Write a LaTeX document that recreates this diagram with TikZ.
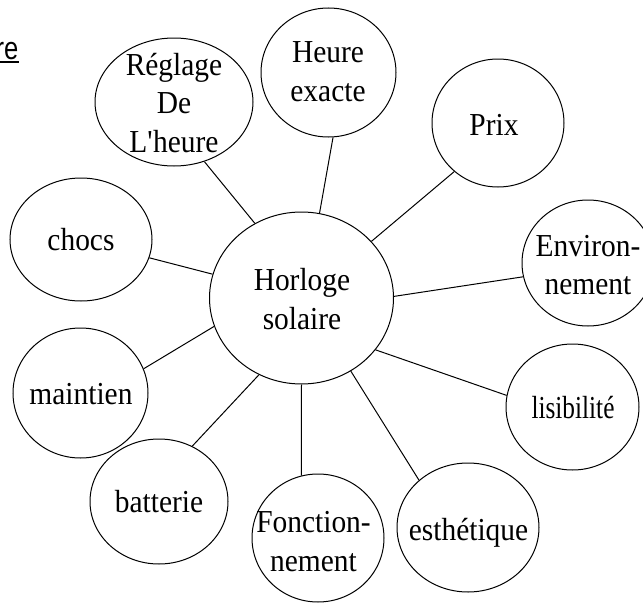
\documentclass[tikz,border=0pt]{standalone}
\usepackage{fontspec}
\setmainfont{Liberation Serif}[FakeStretch=0.92]
\newfontfamily\resans{Liberation Sans}
\usetikzlibrary{shapes.geometric}
\tikzset{
  bubble/.style={draw, ellipse, line width=1pt, inner sep=0pt},
  lbl/.style={inner sep=0pt, align=center, font=\fontsize{32}{38.5}\selectfont},
  link/.style={line width=1pt}
}
\begin{document}
\begin{tikzpicture}[x=1pt,y=-1pt]
\useasboundingbox (0,0) rectangle (643,605);
% title fragment (cut off at the left edge, as in the reference)
\node[inner sep=0pt, anchor=base east, font=\resans\fontsize{32}{38}\selectfont] (ttl) at (18.5,59) {\scalebox{0.8}[1]{re}};
\draw[line width=2pt] ([yshift=-3pt]ttl.base west) -- ([yshift=-3pt]ttl.base east);
% bubbles
\node[bubble, minimum width=158pt, minimum height=128pt] (reg) at (174,102) {};
\node[bubble, minimum width=135pt, minimum height=129pt] (heu) at (328.5,72.5) {};
\node[bubble, minimum width=132pt, minimum height=128pt] (prix) at (498,123) {};
\node[bubble, minimum width=132pt, minimum height=126pt] (env) at (588,263) {};
\node[bubble, minimum width=142pt, minimum height=123pt] (choc) at (81,239.5) {};
\node[bubble, minimum width=184pt, minimum height=172pt] (hor) at (301.5,298) {};
\node[bubble, minimum width=135pt, minimum height=130pt] (main) at (80.5,393) {};
\node[bubble, minimum width=138pt, minimum height=125pt] (batt) at (159,501.5) {};
\node[bubble, minimum width=132pt, minimum height=128pt] (fonc) at (318,538) {};
\node[bubble, minimum width=142pt, minimum height=129pt] (esth) at (468,527.5) {};
\node[bubble, minimum width=133pt, minimum height=126pt] (lisi) at (572.5,407) {};
% labels
\node[lbl] (treg) at (174,103) {Réglage\\De\\L\textquotesingle heure};
\node[lbl] (theu) at (328,71.5) {Heure\\exacte};
\node[lbl] (tprix) at (494,124.5) {Prix};
\node[lbl] (tenv) at (588,265) {Environ-\\nement};
\node[lbl] (tchoc) at (81,240) {chocs};
\node[lbl] (thor) at (302,299) {Horloge\\solaire};
\node[lbl] (tmain) at (81,394) {maintien};
\node[lbl] (tlisi) at (573,408) {\scalebox{0.86}[1]{lisibilité}};
\node[lbl] (tbatt) at (159,502) {batterie};
\node[lbl] (tfonc) at (313.5,541.5) {Fonction-\\nement};
\node[lbl] (testh) at (468.5,532.5) {esthétique};
% connectors
\draw[link] (reg.-63.4) -- (hor.122.9);
\draw[link] (heu.-86.9) -- (hor.78.5);
\draw[link] (prix.-132) -- (hor.39.3);
\draw[link] (env.192.5) -- (hor.1.2);
\draw[link] (choc.-15) -- (hor.165.3);
\draw[link] (main.21.8) -- (hor.198.2);
\draw[link] (batt.59.9) -- (hor.241);
\draw[link] (fonc.105.9) -- (hor.270.3);
\draw[link] (esth.136) -- (hor.304.8);
\draw[link] (lisi.170.5) -- (hor.325.6);
\end{tikzpicture}
\end{document}
